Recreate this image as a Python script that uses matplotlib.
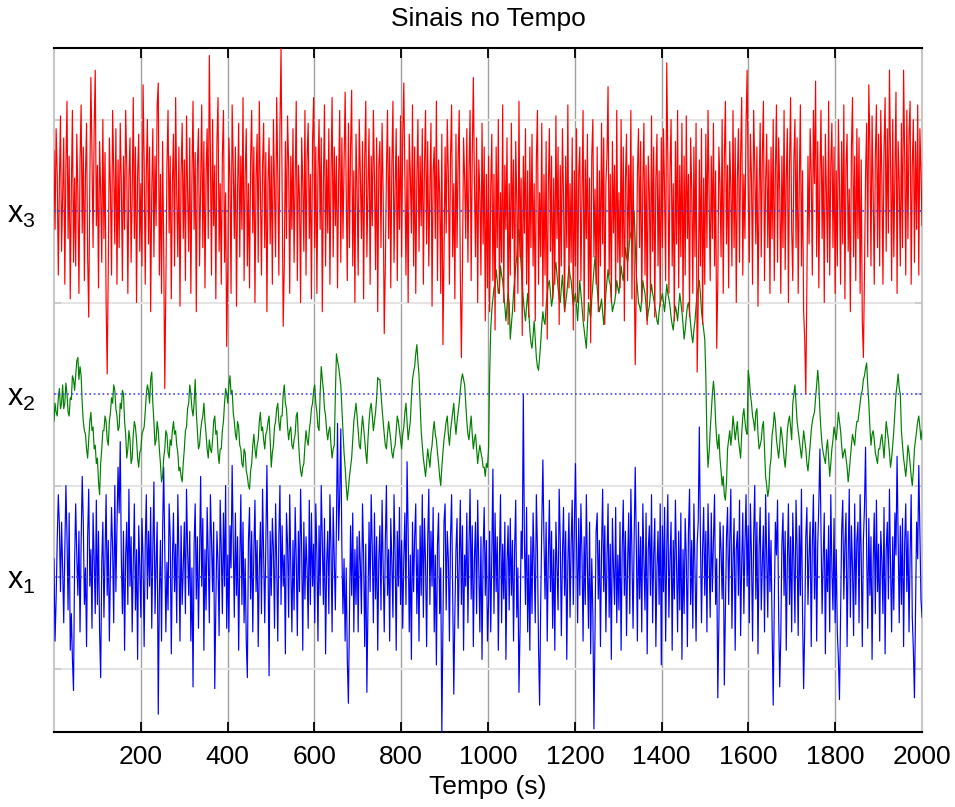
import numpy as np
import matplotlib
matplotlib.use("Agg")
import matplotlib.pyplot as plt

plt.rcParams["font.family"] = ["Liberation Sans", "DejaVu Sans"]
plt.rcParams["mathtext.fontset"] = "custom"
plt.rcParams["mathtext.rm"] = "Liberation Sans"

# signal values (hundredths), one sample every 2.5 s from 0 to 2000 s
x1 = [
    10, -35, -12, 20, 45, 28, -8, 30, 5, -25, 15, 50, 22, -18, 35, -40, -20, -45, -62, 8,
    40, 12, -10, 25, -30, 18, 55, 30, -15, 5, -38, 22, 48, -5, 15, -28, 35, 10, -20, 42,
    -15, 25, -30, -55, 8, 30, -22, 12, 45, -10, 20, -35, 5, 38, 15, -25, 50, -8, 28, 60,
    35, 74, 10, -20, 25, -40, 12, 30, -15, 48, -5, 22, -30, 8, 40, -18, 15, -45, 28, 5,
    -22, 32, 10, -38, 18, 45, -12, 25, -5, 38, -28, 15, 52, -20, 8, 30, -75, -10, 20, -35,
    25, 60, 15, -30, 8, -18, 40, 22, -42, 10, 35, -8, 18, -25, 45, 12, -35, 28, -15, 5,
    30, -20, 48, 15, -10, 25, -35, 5, -60, 18, 40, -12, 22, -28, 10, 55, -5, 32, -40, 15,
    -18, 38, 12, -25, 45, 20, -8, 30, -61, -15, 25, 8, -32, 42, 15, -20, 35, -5, 50, -28,
    12, -30, 28, 5, 61, 18, -22, 35, -10, 22, -40, 8, 45, -15, 30, -25, 10, -35, -55, 20,
    38, -12, 25, -30, 15, 42, -8, 20, -38, 5, 30, -20, 48, 12, -25, 18, 61, 10, -54, 25,
    -10, 32, 15, -28, 40, 8, -35, 22, 50, -15, 28, -5, 12, -42, 35, 18, -22, 45, 5, -30,
    20, -18, 38, 10, -32, 25, -8, 48, 15, -40, 30, -12, 22, 5, -28, 42, -15, 35, -5, 18,
    -25, 40, 12, -35, 28, -10, 50, 20, -15, 32, -42, 8, 25, -20, 45, 15, -30, 38, 10, -18,
    30, 84, 20, 45, 81, 15, -20, 10, -35, 5, -45, -69, -22, 28, -10, 35, -30, 15, -15, 22,
    -30, 25, 8, -20, 40, 12, -38, 18, -63, -15, 30, -8, 45, 15, -25, 35, -12, 22, -40, 10,
    28, -18, 42, 5, -30, 20, 50, -10, 15, -35, 32, 8, -22, 45, 12, -40, 25, -5, 38, -15,
    20, -28, 10, 35, -15, 63, 25, -30, 12, -45, 30, -8, 22, 40, -20, 15, -35, 28, -10, 45,
    -22, 32, 8, -38, 20, 48, -15, 25, -5, 38, -30, 12, -48, 18, 35, -20, 5, -85, -25, 30,
    40, -18, 25, 10, -35, 22, 45, -10, -64, -20, 15, 32, -28, 8, 42, -15, 28, -40, 12, -5,
    35, -25, 18, 48, -12, 28, -38, 10, 30, -20, 42, 5, -30, 22, -45, 15, 38, -10, 20, -35,
    -15, 25, -30, 12, 59, -20, 35, -8, 22, -40, 10, 45, -25, 18, -12, 30, -45, 8, 28, -18,
    32, -10, 20, -35, 15, 42, -22, 5, -63, -28, 25, 10, 100, 20, -15, 38, -30, 12, -40, 22,
    -20, 35, 8, -25, 45, 15, -38, -70, -15, 28, 64, 20, -12, 30, -35, 10, 42, -8, 25, -28,
    15, -40, 30, 5, -18, 48, 20, -32, 12, 38, -10, 25, -45, 8, 35, -22, 18, 42, -15, 28,
    62, 18, -25, 32, -10, 40, 12, -35, 22, -15, 45, 5, -28, 30, -42, 10, -20, -83, -30, 25,
    35, -12, 20, -38, 15, 48, -8, 28, -30, 10, 40, -22, 18, -45, 32, 5, -15, 38, -25, 12,
    -18, 30, -40, 15, 42, -10, 25, -32, 8, 35, -20, 48, 12, -28, 20, 60, 18, -35, 30, -12,
    22, -30, 40, 8, -18, 35, -42, 15, 28, -10, 45, -25, 12, 32, -38, 5, 25, -15, 40, -48,
    28, -8, 38, -35, 15, 45, -22, 10, 30, -40, 20, -12, 42, 8, -30, 25, -18, 35, -45, 15,
    -20, 32, 10, -38, 25, 48, -15, 20, -28, 40, 5, -35, 18, 30, 82, 22, -25, 15, 38, -10,
    25, -30, 40, 12, -22, 35, -8, 20, 45, -15, 10, -66, -25, 30, 15, -12, 28, -59, -20, 22,
    38, -15, 20, 48, -28, 10, 32, -40, 15, 25, -10, 42, -32, 8, 35, -20, 18, 45, -5, 28,
    -25, 40, 12, -35, 22, 50, -12, 30, -42, 15, 38, -18, 8, 28, -30, 45, 10, -22, 35, -8,
    20, -28, -70, -15, 30, 12, 42, -20, -60, -32, 18, 35, -10, 25, -40, 8, 40, -15, 22, -30,
    35, 10, -25, 42, 15, -32, 28, -10, 48, -20, -61, -28, 22, 38, -15, 12, 30, -38, 18, 45,
    -12, 30, -35, 18, 40, 70, 25, -20, 10, 35, -42, 15, -8, 28, -30, 45, 5, -18, 32, -25,
    15, -30, -45, -67, -20, 25, 42, -12, 18, 35, -38, 10, 48, -22, 28, 5, -32, 40, -15, 20,
    30, -25, 45, 12, -38, 20, 38, 71, 15, -28, 32, -10, 22, -45, 8, 35, -20, 42, -8, 18,
    -35, 25, 10, -20, 38, -42, 15, 30, -12, 48, 5, -30, 22, -18, 35, 12, 66, 20, -25, 28,
    -15, 32, -38, 18, 40, -8, 25, -30, 12, 45, -22, -40, -66, -20, 30, 10, 61, 25, -12, -22,
]

x2 = [
    -15, -5, -10, -12, -2, 3, -8, -5, 5, -8, -5, 6, 0, -10, -12, -2, -3, 10, 8, 2,
    10, 18, 20, 8, 15, 10, -5, -15, -20, -22, -30, -35, -25, -15, -10, -20, -18, -30, -28, -38,
    -35, -48, -55, -38, -30, -20, -20, -12, -15, -25, -28, -15, -10, -2, -5, 5, 2, -8, -12, -20,
    -18, -5, -8, 2, 0, -15, -22, -35, -30, -20, -25, -38, -35, -22, -15, -18, -25, -35, -40, -32,
    -30, -22, -20, -18, -10, 0, 5, 2, -5, 8, 12, -5, -15, -28, -25, -15, -20, -30, -38, -48,
    -45, -35, -30, -20, -22, -32, -35, -25, -28, -20, -15, -22, -20, -28, -32, -42, -40, -45, -48, -38,
    -30, -20, -18, -8, -5, 5, 0, -8, -12, -5, 8, -10, -20, -30, -28, -20, -15, -12, -5, -15,
    -22, -30, -35, -25, -30, -32, -25, -15, -12, -22, -20, -32, -38, -30, -30, -20, -15, -5, 3, 0,
    -5, 5, 10, 0, 2, -10, -15, -22, -25, -15, -18, -28, -30, -38, -40, -30, -32, -42, -45, -50,
    -52, -42, -38, -28, -22, -30, -35, -28, -25, -15, -10, -20, -18, -25, -30, -22, -20, -15, -12, -25,
    -40, -32, -28, -18, -15, -8, -5, -15, -20, -12, -12, 0, 5, -5, -8, -18, -25, -20, -18, -28,
    -30, -25, -22, -12, -10, -25, -35, -42, -45, -40, -38, -28, -20, -25, -28, -20, -15, -8, -5, 2,
    5, -5, -10, -18, -20, 0, 15, 8, 2, -8, -12, -20, -25, -20, -18, -28, -35, -30, -28, 0,
    22, 18, 15, 10, 5, -8, -20, -32, -40, -50, -58, -52, -45, -40, -35, -25, -15, -10, -5, -12,
    -20, -28, -30, -20, -12, -18, -25, -32, -38, -25, -15, -8, -5, -12, -20, -15, -10, -2, 9, 8,
    8, 0, -8, -15, -22, -28, -30, -22, -15, -20, -25, -32, -35, -30, -28, -20, -12, -15, -20, -25,
    -30, -22, -18, -10, -5, -15, -25, -20, -15, -2, 8, 12, 15, 22, 27, 18, 10, -5, -20, -28,
    -35, -40, -45, -38, -30, -35, -40, -32, -28, -20, -15, -22, -25, -32, -38, -45, -50, -40, -32, -25,
    -20, -15, -12, -22, -28, -20, -15, -10, -5, -15, -22, -15, -10, -5, 2, 8, 11, 8, 5, -5,
    -15, -22, -25, -18, -12, -22, -30, -25, -22, -30, -38, -32, -28, -32, -35, -40, -40, -45, -38, -40,
    -30, 10, 35, 46, 52, 58, 60, 68, 62, 55, 58, 70, 65, 62, 55, 48, 40, 48, 55, 50,
    30, 38, 45, 55, 62, 70, 75, 85, 90, 80, 70, 60, 52, 45, 40, 48, 55, 45, 35, 28,
    25, 32, 40, 30, 20, 15, 13, 20, 28, 38, 45, 40, 38, 48, 55, 60, 62, 55, 48, 52,
    60, 68, 72, 65, 58, 52, 50, 58, 65, 55, 45, 50, 55, 62, 70, 65, 62, 55, 48, 52,
    55, 48, 40, 52, 62, 55, 48, 40, 35, 30, 25, 38, 50, 45, 42, 52, 60, 68, 75, 65,
    58, 50, 45, 48, 52, 45, 38, 45, 55, 62, 68, 62, 60, 52, 45, 48, 50, 55, 62, 58,
    55, 62, 70, 65, 62, 72, 80, 75, 72, 78, 85, 88, 90, 95, 100, 82, 65, 58, 50, 48,
    45, 52, 62, 58, 55, 48, 40, 45, 48, 55, 60, 55, 52, 48, 45, 40, 38, 45, 50, 52,
    55, 50, 45, 52, 60, 55, 52, 48, 42, 38, 35, 42, 48, 45, 40, 48, 55, 50, 45, 38,
    30, 35, 42, 48, 50, 45, 38, 32, 28, 35, 40, 48, 55, 58, 62, 55, 45, 40, 35, 30,
    10, -25, -40, -32, -20, -10, 0, 7, 0, -15, -25, -30, -22, -35, -42, -50, -45, -55, -58, -48,
    -30, -25, -20, -28, -22, -12, -18, -25, -20, -15, -25, -30, -35, -22, -12, -8, -15, -20, -22, 13,
    8, 0, -5, -12, -15, -20, -10, -8, -22, -30, -28, -25, -18, -15, -30, -45, -50, -56, -52, -40,
    -35, -22, -18, -10, -15, -25, -30, -35, -28, -18, -22, -28, -35, -40, -32, -20, -15, -12, -18, -25,
    -5, 0, 5, -5, -15, -20, -25, -30, -35, -28, -20, -25, -30, -38, -42, -35, -28, -20, -15, -12,
    -10, -2, 5, 13, 5, -10, -20, -28, -32, -35, -38, -30, -25, -35, -45, -38, -30, -25, -18, -22,
    -25, -18, -10, -15, -20, -28, -35, -32, -30, -35, -40, -48, -42, -35, -28, -22, -25, -28, -20, -15,
    -15, -10, -5, 0, 2, 8, 10, 14, 17, 5, -5, -18, -28, -22, -20, -25, -32, -35, -38, -30,
    -30, -25, -22, -28, -35, -25, -15, -20, -25, -32, -40, -35, -28, -20, -10, 0, 5, 11, 3, 0,
    -20, -28, -35, -40, -45, -38, -28, -32, -38, -45, -50, -42, -30, -25, -20, -15, -12, -18, -25, -20,
]

x3 = [
    33, -10, 45, 20, -35, 15, 52, -22, 8, 40, -40, 25, 60, -15, 30, -48, 12, 55, -28, 18,
    -30, 42, 10, -45, 28, 58, -12, 35, -38, 20, 48, -25, -58, 15, 73, 30, -20, 45, 77, -8,
    25, -42, 38, 10, -28, 50, -15, 32, -50, -89, -30, 40, 12, -35, 55, 22, -18, 45, -40, 28,
    -20, 48, 15, -38, 30, -10, 55, 25, -45, 18, 40, -28, 8, 62, -15, 35, -50, 20, 42, -22,
    15, -30, 69, 28, -40, 22, 50, -18, 35, -55, 10, 45, -25, 30, -8, 58, 70, -35, 20, -45,
    38, -20, -97, -40, 25, 55, -12, 30, -48, 15, 42, -30, 62, 8, -25, 35, -52, 20, 48, -15,
    28, -38, 52, 10, -22, 40, -45, 18, 60, -10, 32, -55, 25, 45, -30, 12, 58, -20, 38, -42,
    20, 45, -15, 85, 30, -35, 50, -8, 25, -48, 38, 62, -22, 15, -40, 30, 55, -28, 10, -74,
    -30, 40, 18, -45, 58, 25, -15, 35, -52, 12, 48, -25, 30, -10, 62, -38, 20, 45, -30, 15,
    -42, 28, 55, -12, 35, -50, 18, 42, -28, 60, 10, -35, 25, 48, -20, 32, -55, 15, 40, -18,
    30, -40, 50, 12, -25, 62, 20, -35, 45, 89, 10, -63, -30, 38, -15, 52, 25, -45, 30, -10,
    45, -28, 18, 60, -38, 25, 8, -50, 40, 15, -22, 55, -35, 30, 48, -15, 20, -48, 38, 62,
    -20, 35, -45, 22, 50, -10, 40, -55, 15, 58, -30, 28, -12, 45, -40, 20, 62, -25, 35, -8,
    30, -42, 18, 55, -28, 40, -15, 25, 65, 10, -38, 48, -20, 35, 66, -30, 22, -50, 42, 12,
    -35, 50, 20, -15, 38, -48, 28, 60, -25, 12, 45, -40, 30, -8, 55, 18, -32, 40, -55, 25,
    38, -20, 48, 10, -67, -30, 22, 55, -15, 35, -42, 25, 60, -28, 12, 45, -38, 30, -10, 52,
    -25, 40, 70, 15, -35, 28, -50, 42, 20, -12, 58, -30, 35, -45, 18, 50, -22, 30, -8, 45,
    -40, 25, 55, -18, 38, -30, 12, 48, -52, 22, 35, -15, 60, -38, 28, 10, -45, 42, -73, -25,
    35, -12, 50, 20, -40, 30, 58, -25, 15, -48, 42, -20, 28, 55, -35, -80, -30, 40, 18, -15,
    45, -28, 22, 55, -38, 30, 73, 15, -25, 40, -50, 28, 10, -35, 48, -18, 35, -60, 20, -42,
    30, -55, 12, 42, -38, 20, -65, 35, -20, 50, -45, 10, -28, 58, -50, 25, -10, 40, -62, 15,
    -35, 48, -15, 28, -55, 38, 5, -45, 60, -25, 18, -68, 30, -12, 45, -40, 22, -58, 35, -20,
    42, -30, 15, -60, 28, 55, -40, 10, -25, 48, -52, 20, -35, 38, -70, 12, 45, -22, 30, -48,
    18, -40, 52, -15, 35, -62, 25, -30, 45, 8, -55, 30, -20, 58, -42, 15, -28, 40, -65, 22,
    -30, 45, -50, 20, 35, -38, 10, 55, -60, 28, -15, 42, -48, 18, -72, 30, 50, -25, 12, -40,
    35, -55, 22, -30, 48, -18, 40, -62, 15, 30, 68, -35, 20, -50, 38, -12, 25, -45, 55, -28,
    10, -42, 50, -25, 35, -60, 18, 42, -38, 25, -15, 55, -48, 30, -30, -84, -40, 20, 45, -20,
    38, -50, 15, 48, -35, 25, -62, 30, 10, -45, 52, -22, 35, -58, 18, 42, -30, 22, -52, 40,
    -20, 45, 12, -38, 81, 30, -45, 22, 50, -30, 15, -60, 38, -18, 55, -42, 25, -25, 48, -55,
    30, -35, 52, -15, 20, -58, 40, 12, -45, 35, -25, 48, -88, -50, 28, -30, 45, -62, 18, -40,
    42, -20, 55, 10, -38, 30, -15, 48, -30, 22, -75, -40, 35, 15, -25, 50, -45, 28, 60, -18,
    25, -42, 38, 12, -30, 55, -20, 40, -50, 18, 45, -28, 30, 62, -35, 20, -15, 48, 77, 10,
    -28, 42, 18, -40, 55, 25, -18, 35, -52, 10, 48, -25, 30, 60, -38, 15, 42, -20, 28, -45,
    35, -15, 50, -38, 22, 58, -28, 40, 12, -45, 30, -20, 55, -32, 18, 45, -50, 25, 62, -10,
    -38, 28, 50, -20, 40, -45, 15, 58, -30, 22, -55, -70, -100, -40, 30, -18, 45, 20, -35, 55,
    15, 71, -25, 38, -42, 20, 55, -15, 30, -50, 42, 10, -28, 60, -35, 25, 48, -20, 35, -45,
    22, -30, 50, 15, -40, 38, -18, 58, -48, 25, 42, -22, 12, -55, 35, 62, -25, 30, -38, 45,
    -15, 40, -45, 28, -60, -80, -35, 20, 48, -25, 69, 35, -30, 52, 10, -40, 30, 58, -20, 42,
    -30, 55, 18, -40, 35, 62, -22, 45, -12, 77, 28, -38, 50, -25, 20, 65, -45, 38, 15, -30,
    48, -20, 77, 30, -35, 55, -15, 42, 60, -40, 25, 50, -28, 38, -10, 58, -35, 45, 22, -8,
]

signals = [x1, x2, x3]
offsets = [0, 1, 2]
colors = ["#0000ff", "#008000", "#ff0000"]
labels = [r"$\mathregular{x_1}$", r"$\mathregular{x_2}$", r"$\mathregular{x_3}$"]
xticks = [200, 400, 600, 800, 1000, 1200, 1400, 1600, 1800, 2000]

fig = plt.figure(figsize=(9.55, 8.07), dpi=100)
ax = fig.add_axes([0.0565, 0.0929, 0.909, 0.8476])

for sig, off, c in zip(signals, offsets, colors):
    t = np.linspace(0, 2000, len(sig))
    ax.plot(t, np.array(sig) / 100.0 + off, color=c, lw=0.85, zorder=3)

for off in offsets:
    ax.axhline(off, color="#4444ee", lw=1.2, ls=":", zorder=4)

ax.set_xlim(0, 2000)
ax.set_ylim(-0.847, 2.891)
ax.set_xticks(xticks)
ax.set_yticks(offsets)
ax.set_yticklabels(labels, fontsize=22)
ax.set_yticks([-0.5, 0.5, 1.5, 2.5], minor=True)

ax.grid(axis="x", color="#a0a0a0", lw=1.0, zorder=1)
ax.grid(axis="y", which="minor", color="#e4e4e4", lw=1.5, zorder=1)

ax.tick_params(axis="x", direction="in", length=7, width=1.3, top=True,
               labelsize=19, pad=9, color="black")
ax.tick_params(axis="y", which="both", direction="in", length=5, width=1.2,
               right=True, color="#c8c8c8", pad=13)

for s in ["top", "bottom"]:
    ax.spines[s].set_color("black")
    ax.spines[s].set_linewidth(1.5)
for s in ["left", "right"]:
    ax.spines[s].set_color("#c8c8c8")
    ax.spines[s].set_linewidth(1.5)

ax.set_xlabel("Tempo (s)", fontsize=19, labelpad=5)
ax.set_title("Sinais no Tempo", fontsize=19, pad=16)

fig.savefig("out.png", dpi=100)
